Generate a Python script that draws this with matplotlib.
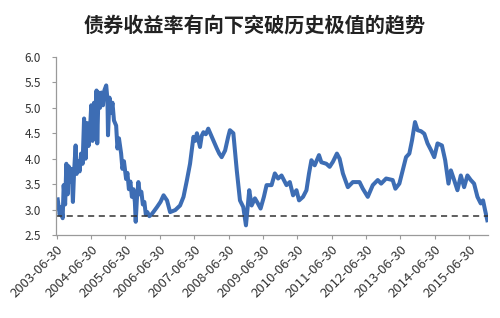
import numpy as np
import matplotlib.pyplot as plt

plt.rcParams['font.family'] = ['Noto Sans CJK SC', 'DejaVu Sans']

title = "债券收益率有向下突破历史极值的趋势"

# decimal years (dense band 2003-2006 traced as highs/lows)
years = [
    2003.529, 2003.587, 2003.630, 2003.674, 2003.703, 2003.746, 2003.781, 2003.819, 2003.848, 2003.891,
    2003.935, 2003.972, 2004.007, 2004.051, 2004.080, 2004.123, 2004.167, 2004.210, 2004.254, 2004.297,
    2004.341, 2004.384, 2004.428, 2004.471, 2004.506, 2004.543, 2004.587, 2004.630, 2004.659, 2004.680,
    2004.717, 2004.761, 2004.804, 2004.848, 2004.891, 2004.941, 2004.978, 2004.993, 2005.036, 2005.080,
    2005.123, 2005.167, 2005.230, 2005.268, 2005.312, 2005.375, 2005.413, 2005.457, 2005.520, 2005.558,
    2005.601, 2005.645, 2005.688, 2005.732, 2005.775, 2005.799, 2005.833, 2005.877, 2005.920, 2005.964,
    2006.007, 2006.051, 2006.094, 2006.138, 2006.196, 2006.254, 2006.312,
    2006.42, 2006.52, 2006.61, 2006.71, 2006.80, 2006.95, 2007.09, 2007.19, 2007.29, 2007.38,
    2007.48, 2007.53, 2007.58, 2007.67, 2007.72, 2007.77, 2007.84, 2007.91, 2008.00, 2008.06,
    2008.16, 2008.23, 2008.30, 2008.40, 2008.49, 2008.54, 2008.64, 2008.74,
    2008.833, 2008.929, 2009.007, 2009.103, 2009.172, 2009.268, 2009.355, 2009.433, 2009.529, 2009.607,
    2009.752, 2009.848, 2009.943, 2010.042, 2010.187, 2010.283, 2010.378, 2010.477, 2010.552, 2010.668,
    2010.767, 2010.842, 2010.912, 2011.007, 2011.132, 2011.201, 2011.346, 2011.442, 2011.538, 2011.654,
    2011.732, 2011.828, 2011.972, 2012.117, 2012.312, 2012.407, 2012.552, 2012.697, 2012.842, 2012.941,
    2013.086, 2013.277, 2013.355, 2013.471, 2013.567, 2013.665, 2013.761, 2013.839, 2013.926, 2014.001,
    2014.100, 2014.196, 2014.291, 2014.390, 2014.486, 2014.581, 2014.709, 2014.804, 2014.900, 2014.970,
    2015.065, 2015.161, 2015.259, 2015.355, 2015.451, 2015.549, 2015.645, 2015.743, 2015.839, 2015.906,
    2015.964, 2016.030,
]
yields = [
    3.20, 2.90, 3.05, 2.83, 3.48, 3.10, 3.90, 3.30, 3.85, 3.55,
    3.80, 3.15, 3.75, 4.26, 3.70, 3.95, 3.75, 4.10, 3.90, 4.79,
    4.00, 4.70, 4.25, 4.60, 5.05, 4.35, 5.10, 4.70, 5.34, 4.30,
    5.30, 5.00, 5.30, 5.05, 5.35, 5.44, 5.15, 4.46, 5.20, 4.90,
    5.10, 4.75, 4.65, 4.20, 4.40, 4.10, 3.80, 3.95, 3.60, 3.72,
    3.40, 3.55, 3.25, 3.40, 3.15, 2.76, 3.20, 3.54, 3.30, 3.35,
    3.10, 3.15, 2.90, 2.95, 2.87, 2.90, 2.95,
    3.05, 3.15, 3.28, 3.18, 2.95, 2.99, 3.08, 3.25, 3.58, 3.90,
    4.43, 4.35, 4.50, 4.23, 4.45, 4.52, 4.48, 4.59, 4.45, 4.36,
    4.20, 4.10, 4.03, 4.16, 4.43, 4.56, 4.50, 3.77,
    3.18, 3.05, 2.69, 3.38, 3.08, 3.22, 3.12, 3.02, 3.25, 3.48,
    3.48, 3.71, 3.61, 3.67, 3.48, 3.54, 3.28, 3.38, 3.18, 3.25,
    3.38, 3.71, 3.97, 3.87, 4.07, 3.93, 3.90, 3.84, 3.94, 4.10,
    4.00, 3.71, 3.44, 3.54, 3.54, 3.41, 3.25, 3.48, 3.58, 3.51,
    3.61, 3.58, 3.41, 3.51, 3.77, 4.03, 4.10, 4.36, 4.72, 4.56,
    4.54, 4.49, 4.30, 4.17, 4.03, 4.30, 4.26, 3.97, 3.51, 3.77,
    3.58, 3.38, 3.67, 3.44, 3.67, 3.58, 3.51, 3.25, 3.12, 3.18,
    2.99, 2.79,
]
floor_level = 2.88

tick_years = np.arange(2003.5, 2016.0, 1.0)
tick_labels = [f"{int(t)}-06-30" for t in tick_years]
y_ticks = [2.5, 3.0, 3.5, 4.0, 4.5, 5.0, 5.5, 6.0]

fig = plt.figure(figsize=(5.0, 3.18), dpi=100)
ax = fig.add_axes([0.112, 0.261, 0.864, 0.56])

ax.plot(years, yields, color="#3d6db4", linewidth=2.9, solid_joinstyle="round")
ax.axhline(floor_level, color="#333333", linewidth=1.1, linestyle=(0, (4, 3)))

ax.set_xlim(2003.48, 2016.05)
ax.set_ylim(2.5, 6.0)
ax.set_yticks(y_ticks)
ax.set_yticklabels([f"{v:.1f}" for v in y_ticks])
ax.set_xticks(tick_years)
ax.set_xticklabels(tick_labels, rotation=45, ha="right", rotation_mode="anchor")

for side in ["top", "right"]:
    ax.spines[side].set_visible(False)
for side in ["left", "bottom"]:
    ax.spines[side].set_color("#9a9a9a")
    ax.spines[side].set_linewidth(0.9)
ax.tick_params(axis="both", colors="#9a9a9a", length=3, width=0.8,
               labelcolor="#333333", labelsize=8.5)
ax.tick_params(axis="y", pad=8)
ax.tick_params(axis="x", pad=3, labelsize=9.5)

fig.text(0.51, 0.92, title, ha="center", va="center", fontsize=14.5,
         fontweight="bold", color="#222222")

fig.savefig("out.png", dpi=100)
